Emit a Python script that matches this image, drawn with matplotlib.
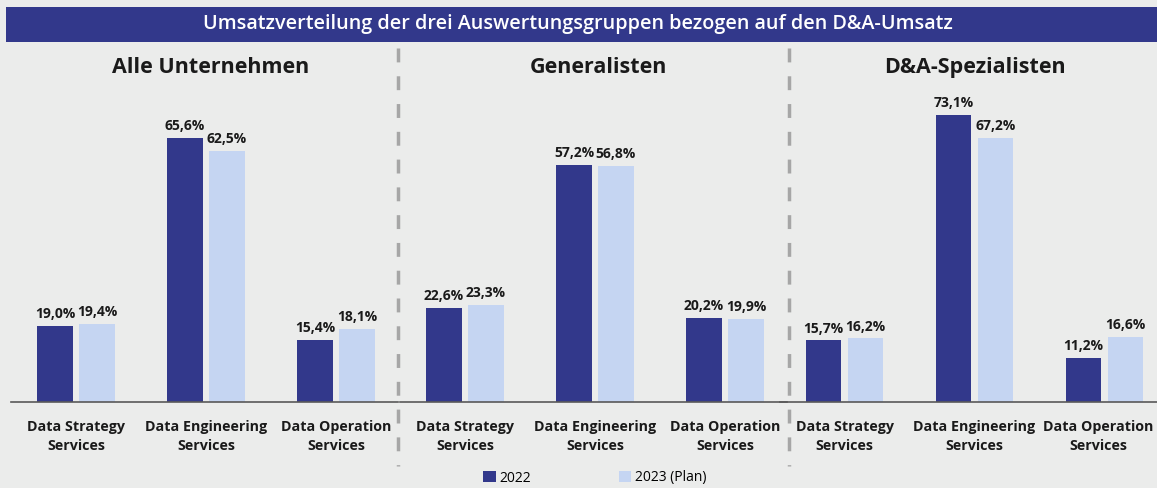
import matplotlib.pyplot as plt
import matplotlib.transforms as mtransforms
from matplotlib.patches import Patch, Rectangle
import numpy as np

plt.rcParams['font.family'] = ['Open Sans', 'DejaVu Sans']

panels = ["Alle Unternehmen", "Generalisten", "D&A-Spezialisten"]
categories = ["Data Strategy\nServices", "Data Engineering\nServices", "Data Operation\nServices"]
values_2022 = [[19.0, 65.6, 15.4], [22.6, 57.2, 20.2], [15.7, 73.1, 11.2]]
values_2023 = [[19.4, 62.5, 18.1], [23.3, 56.8, 19.9], [16.2, 67.2, 16.6]]
series_names = ["2022", "2023 (Plan)"]
title = "Umsatzverteilung der drei Auswertungsgruppen bezogen auf den D&A-Umsatz"

dark = "#32388B"
light = "#C5D5F2"
bg = "#EBECEB"

W, H = 1157, 488
fig = plt.figure(figsize=(W / 100, H / 100), dpi=100, facecolor=bg)

# title bar
fig.patches.append(Rectangle((6 / W, 1 - 42 / H), 1 - 6 / W, 35 / H, transform=fig.transFigure,
                             facecolor=dark, edgecolor="none", zorder=0))
fig.text(578 / W, 1 - 24 / H, title, color="white", fontsize=14.2, fontweight="semibold",
         ha="center", va="center")

# axes layout in pixels: left, right, y-max
layout = [(11, 398, 77.6), (400, 787, 75.2), (779.5, 1157, 79.4)]
title_x = [211, 598, 975]
top_px, base_px = 90, 402
w = 0.27
off = 0.1615
x = np.arange(len(categories))

for i, (left, right, ymax) in enumerate(layout):
    ax = fig.add_axes([left / W, 1 - base_px / H, (right - left) / W, (base_px - top_px) / H])
    ax.set_facecolor("none")
    b1 = ax.bar(x - off, values_2022[i], w, color=dark)
    b2 = ax.bar(x + off, values_2023[i], w, color=light)
    for bars in (b1, b2):
        for b in bars:
            ax.text(b.get_x() + b.get_width() / 2, b.get_height() + 1.2,
                    f"{b.get_height():.1f}%".replace(".", ","),
                    ha="center", va="bottom", fontsize=10, fontweight="bold", color="#1a1a1a")
    ax.set_xlim(-0.5, -0.5 + (right - left) / 130.0)
    ax.set_ylim(0, ymax)
    for s in ["top", "right", "left"]:
        ax.spines[s].set_visible(False)
    ax.spines["bottom"].set_color("#595959")
    ax.spines["bottom"].set_linewidth(1.2)
    ax.set_yticks([])
    ax.set_xticks(x)
    ax.set_xticklabels(categories, fontsize=10.3, fontweight="bold", color="#1a1a1a", linespacing=1.45)
    ax.tick_params(axis="x", length=0, pad=13)
    if i == 2:
        # last label sits a little left, like the original, so it stays inside
        lab = ax.get_xticklabels()[-1]
        lab.set_transform(lab.get_transform() + mtransforms.ScaledTranslation(-6 / 100, 0, fig.dpi_scale_trans))
    fig.text(title_x[i] / W, 1 - 67 / H, panels[i], fontsize=15.5, fontweight="bold", ha="center",
             va="center", color="#1a1a1a")

# dashed separators
for sx in (398, 789):
    fig.add_artist(plt.Line2D([sx / W, sx / W], [1 - 48 / H, 1 - 466 / H], transform=fig.transFigure,
                              color="#A6A6A6", linewidth=2.5, linestyle=(0, (4, 4))))

handles = [Patch(facecolor=dark, label=series_names[0]), Patch(facecolor=light, label=series_names[1])]
fig.legend(handles=handles, loc="center", bbox_to_anchor=(595 / W, 1 - 478 / H), ncol=2,
           frameon=False, fontsize=10, handlelength=0.9, handleheight=0.9, handletextpad=0.3,
           columnspacing=6.3)

fig.savefig("out.png", dpi=100, facecolor=bg)
